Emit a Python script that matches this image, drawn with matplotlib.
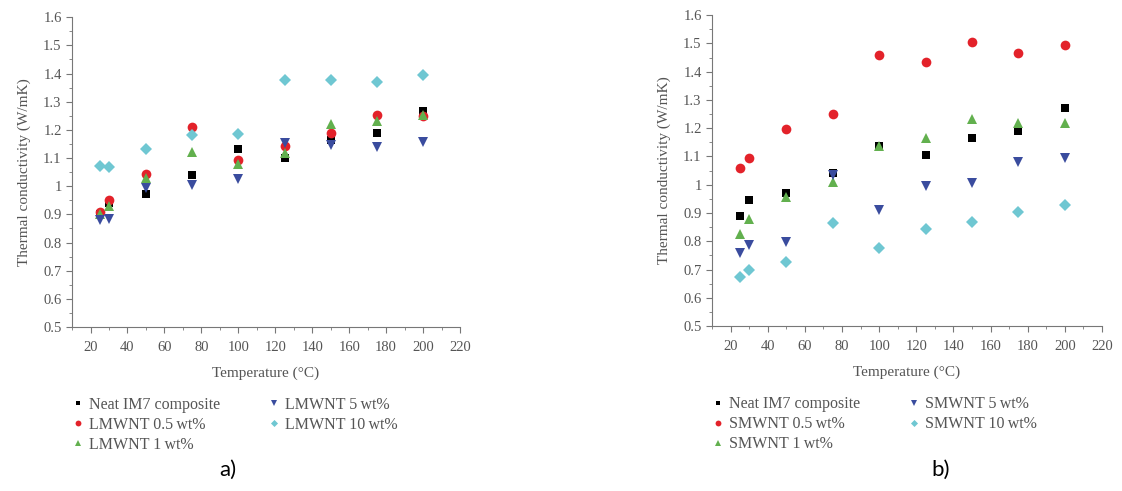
import numpy as np
import matplotlib.pyplot as plt
from matplotlib.ticker import MultipleLocator

plt.rcParams["font.family"] = ["Liberation Serif", "DejaVu Serif"]

# temperaturas (°C)
temp = [25, 30, 50, 75, 100, 125, 150, 175, 200]

# a) LMWNT
neat_a = [0.90, 0.94, 0.971, 1.039, 1.133, 1.100, 1.165, 1.188, 1.267]
l05 = [0.908, 0.951, 1.045, 1.209, 1.094, 1.141, 1.188, 1.251, 1.249]
l1 = [0.900, 0.930, 1.030, 1.120, 1.078, 1.118, 1.221, 1.230, 1.253]
l5 = [0.879, 0.882, 0.994, 1.004, 1.027, 1.153, 1.147, 1.138, 1.158]
l10 = [1.071, 1.067, 1.133, 1.182, 1.185, 1.376, 1.378, 1.371, 1.395]

# b) SMWNT
neat_b = [0.889, 0.946, 0.971, 1.040, 1.138, 1.107, 1.166, 1.191, 1.270]
s05 = [1.060, 1.093, 1.199, 1.250, 1.458, 1.436, 1.506, 1.467, 1.493]
s1 = [0.824, 0.878, 0.955, 1.010, 1.138, 1.166, 1.233, 1.217, 1.219]
s5 = [0.760, 0.786, 0.796, 1.034, 0.910, 0.996, 1.007, 1.081, 1.095]
s10 = [0.672, 0.700, 0.727, 0.865, 0.775, 0.844, 0.867, 0.903, 0.928]

nomes_a = ["Neat IM7 composite", "LMWNT 0.5\u2009wt%", "LMWNT 1\u2009wt%", "LMWNT 5\u2009wt%", "LMWNT 10\u2009wt%"]
nomes_b = ["Neat IM7 composite", "SMWNT 0.5\u2009wt%", "SMWNT 1\u2009wt%", "SMWNT 5\u2009wt%", "SMWNT 10\u2009wt%"]

marcadores = ["s", "o", "^", "v", "D"]
cores = ["#000000", "#e3222a", "#62b04e", "#3a4c9e", "#6fc7d2"]
tamanhos = [6, 7, 7.5, 7.5, 6]

cinza = "#555555"

fig = plt.figure(figsize=(11.22, 4.91), dpi=100)
ax_a = fig.add_axes([0.0642, 0.334, 0.3458, 0.631])
ax_b = fig.add_axes([0.6346, 0.336, 0.3476, 0.633])


def painel(ax, series, nomes):
    for y, nome, m, c, s in zip(series, nomes, marcadores, cores, tamanhos):
        ax.plot(temp, y, linestyle="none", marker=m, color=c,
                markersize=s, markeredgewidth=0, label=nome)

    ax.set_xlim(10, 220)
    ax.set_ylim(0.5, 1.6)
    ax.xaxis.set_major_locator(MultipleLocator(20))
    ax.xaxis.set_minor_locator(MultipleLocator(10))
    ax.yaxis.set_minor_locator(MultipleLocator(0.05))
    ax.set_yticks(np.arange(0.5, 1.61, 0.1))
    ax.set_yticklabels(["0.5", "0.6", "0.7", "0.8", "0.9", "1", "1.1",
                        "1.2", "1.3", "1.4", "1.5", "1.6"])

    for lado in ["top", "right"]:
        ax.spines[lado].set_visible(False)
    for lado in ["left", "bottom"]:
        ax.spines[lado].set_color("#777777")
        ax.spines[lado].set_linewidth(0.8)

    ax.tick_params(which="both", direction="out", colors="#777777",
                   labelcolor=cinza, labelsize=10.5)
    ax.tick_params(which="major", length=4)
    ax.tick_params(which="minor", length=2)
    ax.tick_params(axis="x", pad=6)

    ax.set_xlabel("Temperature (°C)", color=cinza, fontsize=11, labelpad=9)
    ax.set_ylabel("Thermal conductivity (W/mK)", color=cinza, fontsize=11, labelpad=9)

    leg = ax.legend(loc="upper left", bbox_to_anchor=(0.0, -0.226), ncol=2,
                    frameon=False, fontsize=11.5, markerscale=0.6,
                    handlelength=0.8, handletextpad=0.25, columnspacing=3.0,
                    labelspacing=0.25, borderpad=0, borderaxespad=0)
    for t in leg.get_texts():
        t.set_color(cinza)


painel(ax_a, [neat_a, l05, l1, l5, l10], nomes_a)
painel(ax_b, [neat_b, s05, s1, s5, s10], nomes_b)

fig.text(0.203, 0.043, "a)", fontsize=16, family=["Lato", "DejaVu Sans"], ha="center", va="center")
fig.text(0.838, 0.043, "b)", fontsize=16, family=["Lato", "DejaVu Sans"], ha="center", va="center")

fig.savefig("out.png", dpi=100)
